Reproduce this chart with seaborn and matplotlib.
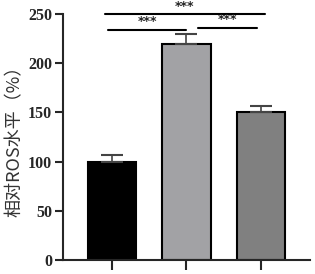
import matplotlib
matplotlib.use("Agg")
import matplotlib.pyplot as plt
import seaborn as sns
import pandas as pd

groups = ["A", "B", "C"]
means = [100, 220, 150]
errs = [7, 10, 7]
colors = ["#000000", "#a2a1a6", "#808080"]
sig_pairs = [(0, 2, 250), (0, 1, 234), (1, 2, 236)]
sig_labels = ["***", "***", "***"]

sns.set_theme(style="ticks")
plt.rcParams['font.family'] = ['Liberation Serif', 'Noto Sans CJK SC']

fig = plt.figure(figsize=(3.15, 2.74), dpi=100)
ax = fig.add_axes([0.2, 0.051, 0.784, 0.898])
df = pd.DataFrame({"g": groups, "v": means})
sns.barplot(data=df, x="g", y="v", hue="g", palette=colors, width=0.65,
            edgecolor="black", linewidth=1.5, legend=False, ax=ax, errorbar=None)
for i, (m, e) in enumerate(zip(means, errs)):
    ax.errorbar(i, m, yerr=[[0], [e]], color="#444444", capsize=8, elinewidth=1.2,
                capthick=1.5, fmt="none", zorder=5)
ax.set_xlim(-0.66, 2.66)
ax.set_ylim(0, 250)
ax.set_yticks([0, 50, 100, 150, 200, 250])
ax.set_xticklabels([])
ax.set_xlabel("")
ax.set_ylabel("相对ROS水平（%）", fontsize=13, color="#333333",
              family=['Noto Sans CJK SC'], labelpad=3)
for lbl in ax.get_yticklabels():
    lbl.set_fontweight("bold")
    lbl.set_fontsize(11.5)
ax.tick_params(axis="y", length=6, width=1.5, pad=2)
ax.tick_params(axis="x", length=7, width=1.5)
for s in ["left", "bottom"]:
    ax.spines[s].set_linewidth(1.5)
sns.despine(ax=ax)

offs = [(-0.1, 0.05), (-0.05, 0.0), (0.15, -0.05)]
for (a, b, y), lab, (da, db) in zip(sig_pairs, sig_labels, offs):
    ax.plot([a + da, b + db], [y, y], color="black", lw=1.5, clip_on=False)
    ax.text((a + da + b + db) / 2, y + 8, lab, ha="center", va="center",
            fontsize=9, fontweight="bold", color="#222222",
            family=["DejaVu Sans"], clip_on=False)

fig.savefig("out.png", dpi=100)
